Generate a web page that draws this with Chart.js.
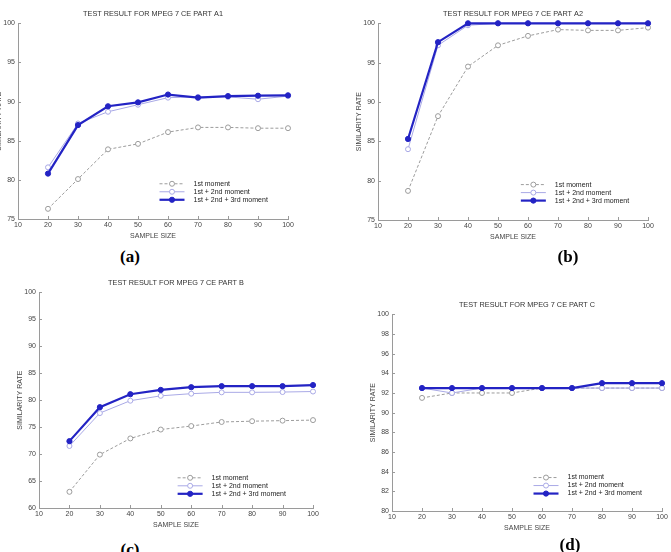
<!DOCTYPE html>
<html>
<head>
<meta charset="utf-8">
<script src="https://cdn.jsdelivr.net/npm/chart.js@4/dist/chart.umd.min.js"></script>
<style>
  html, body { margin: 0; padding: 0; background: #fff; }
  body { width: 671px; height: 552px; position: relative; overflow: hidden; }
  canvas { position: absolute; }
  .tag {
    position: absolute; width: 60px; text-align: center;
    font: bold 17px "Liberation Serif", "DejaVu Serif", serif; line-height: 20px; color: #000;
  }
</style>
</head>
<body>
<canvas id="chartA1"></canvas>
<canvas id="chartA2"></canvas>
<canvas id="chartB"></canvas>
<canvas id="chartC"></canvas>
<div class="tag" style="left:100px;top:247px">(a)</div>
<div class="tag" style="left:538px;top:247px">(b)</div>
<div class="tag" style="left:100px;top:540px">(c)</div>
<div class="tag" style="left:540px;top:535px">(d)</div>
<script>
// Data
const sampleSizes = [20, 30, 40, 50, 60, 70, 80, 90, 100];
const seriesNames = ["1st moment", "1st + 2nd moment", "1st + 2nd + 3rd moment"];

const a1First  = [76.3, 80.1, 83.9, 84.6, 86.1, 86.7, 86.7, 86.6, 86.6];
const a1Second = [81.6, 87.2, 88.7, 89.6, 90.5, 90.6, 90.6, 90.3, 90.7];
const a1Third  = [80.8, 87.0, 89.4, 89.9, 90.9, 90.5, 90.7, 90.75, 90.8];

const a2First  = [78.7, 88.2, 94.5, 97.2, 98.4, 99.2, 99.1, 99.1, 99.45];
const a2Second = [84.0, 97.2, 99.75, 100, 100, 100, 100, 100, 100];
const a2Third  = [85.3, 97.6, 100, 100, 100, 100, 100, 100, 100];

const bFirst  = [63.0, 69.9, 72.9, 74.55, 75.2, 75.95, 76.1, 76.2, 76.3];
const bSecond = [71.5, 77.6, 79.9, 80.8, 81.2, 81.45, 81.45, 81.5, 81.6];
const bThird  = [72.4, 78.7, 81.1, 81.9, 82.4, 82.6, 82.6, 82.6, 82.8];

const cFirst  = [91.5, 92.0, 92.0, 92.0, 92.5, 92.5, 92.5, 92.5, 92.5];
const cSecond = [92.5, 92.0, 92.5, 92.5, 92.5, 92.5, 92.5, 92.5, 92.5];
const cThird  = [92.5, 92.5, 92.5, 92.5, 92.5, 92.5, 93.0, 93.0, 93.0];

// Panel setup: canvas box + y range
const panels = [
  { id: "chartA1", title: "TEST RESULT FOR MPEG 7 CE PART A1", left: -18, top: 6, w: 318, h: 241,
    yMin: 75, yMax: 100, yStep: 5, data: [a1First, a1Second, a1Third], legendX: 0.65, legendY: 0.82 },
  { id: "chartA2", title: "TEST RESULT FOR MPEG 7 CE PART A2", left: 342, top: 6, w: 318, h: 242,
    yMin: 75, yMax: 100, yStep: 5, data: [a2First, a2Second, a2Third], legendX: 0.655, legendY: 0.82 },
  { id: "chartB", title: "TEST RESULT FOR MPEG 7 CE PART B", left: 3, top: 275, w: 322, h: 261,
    yMin: 60, yMax: 100, yStep: 5, data: [bFirst, bSecond, bThird], legendX: 0.63, legendY: 0.86 },
  { id: "chartC", title: "TEST RESULT FOR MPEG 7 CE PART C", left: 356, top: 297, w: 318, h: 242,
    yMin: 80, yMax: 100, yStep: 2, data: [cFirst, cSecond, cThird], legendX: 0.65, legendY: 0.83 },
];

const styles = [
  { color: "#9c9c9c", width: 1, dash: [3, 2], radius: 2.5, fill: "#ffffff" },
  { color: "#a9a9e6", width: 1, dash: [], radius: 2.5, fill: "#ffffff" },
  { color: "#2323c4", width: 2.2, dash: [], radius: 2.6, fill: "#2323c4" },
];

const axisGray = "#9a9a9a";
const textGray = "#444";
const smallFont = { family: "'Liberation Sans', Arial, sans-serif", size: 7 };

// inward tick marks, like the original plot
const innerTicks = {
  id: "innerTicks",
  afterDatasetsDraw(chart) {
    const { ctx, scales: { x, y } } = chart;
    ctx.save();
    ctx.strokeStyle = axisGray;
    ctx.lineWidth = 1;
    ctx.beginPath();
    x.ticks.forEach((t) => {
      const px = Math.round(x.getPixelForValue(t.value)) + 0.5;
      ctx.moveTo(px, y.bottom);
      ctx.lineTo(px, y.bottom - 3);
    });
    y.ticks.forEach((t) => {
      const py = Math.round(y.getPixelForValue(t.value)) + 0.5;
      ctx.moveTo(x.left, py);
      ctx.lineTo(x.left + 3, py);
    });
    ctx.stroke();
    ctx.restore();
  },
};

// legend drawn inside the plot area
const insideLegend = {
  id: "insideLegend",
  afterDraw(chart, args, opts) {
    const { ctx, chartArea } = chart;
    const textX = chartArea.left + opts.x * (chartArea.right - chartArea.left);
    let rowY = chartArea.top + opts.y * (chartArea.bottom - chartArea.top);
    ctx.save();
    ctx.font = "7px 'Liberation Sans', Arial, sans-serif";
    ctx.textBaseline = "middle";
    chart.data.datasets.forEach((ds) => {
      const x1 = textX - 34, x2 = textX - 9;
      ctx.strokeStyle = ds.borderColor;
      ctx.lineWidth = ds.borderWidth;
      ctx.setLineDash(ds.borderDash);
      ctx.beginPath();
      ctx.moveTo(x1, rowY);
      ctx.lineTo(x2, rowY);
      ctx.stroke();
      ctx.setLineDash([]);
      ctx.lineWidth = 1;
      ctx.fillStyle = ds.pointBackgroundColor;
      ctx.beginPath();
      ctx.arc((x1 + x2) / 2, rowY, ds.pointRadius, 0, Math.PI * 2);
      ctx.fill();
      ctx.stroke();
      ctx.fillStyle = "#222";
      ctx.fillText(ds.label, textX, rowY);
      rowY += 8;
    });
    ctx.restore();
  },
};

panels.forEach((p) => {
  const canvas = document.getElementById(p.id);
  canvas.width = p.w;
  canvas.height = p.h;
  canvas.style.left = p.left + "px";
  canvas.style.top = p.top + "px";

  const datasets = p.data.map((vals, i) => ({
    label: seriesNames[i],
    data: sampleSizes.map((s, k) => ({ x: s, y: vals[k] })),
    order: 2 - i, // thick series on top
    borderColor: styles[i].color,
    borderWidth: styles[i].width,
    borderDash: styles[i].dash,
    pointRadius: styles[i].radius,
    pointBorderWidth: 1,
    pointBorderColor: styles[i].color,
    pointBackgroundColor: styles[i].fill,
    tension: 0,
    clip: false,
  }));

  new Chart(canvas, {
    type: "line",
    data: { datasets },
    plugins: [innerTicks, insideLegend],
    options: {
      responsive: false,
      animation: false,
      layout: { padding: { left: 0, right: 12, top: 0, bottom: 0 } },
      plugins: {
        legend: { display: false },
        tooltip: { enabled: false },
        title: {
          display: true,
          text: p.title,
          fullSize: false,
          color: "#333",
          font: { ...smallFont, size: 7.3, weight: "normal", lineHeight: 1 },
          padding: { top: 4, bottom: 6 },
        },
        insideLegend: { x: p.legendX, y: p.legendY },
      },
      scales: {
        x: {
          type: "linear",
          min: 10, max: 100,
          ticks: { stepSize: 10, color: textGray, font: smallFont, padding: 2, maxRotation: 0 },
          grid: { drawOnChartArea: false, drawTicks: false },
          border: { color: axisGray },
          title: { display: true, text: "SAMPLE SIZE", color: textGray, font: smallFont, padding: { top: 0, bottom: 7 } },
          afterFit(scale) { scale.height = 28; },
        },
        y: {
          min: p.yMin, max: p.yMax,
          ticks: { stepSize: p.yStep, color: textGray, font: smallFont, padding: 3 },
          grid: { drawOnChartArea: false, drawTicks: false },
          border: { color: axisGray },
          title: { display: true, text: "SIMILARITY RATE", color: textGray, font: smallFont, padding: { top: 13, bottom: 0 } },
          afterFit(scale) { scale.width = 36; },
        },
      },
    },
  });
});
</script>
</body>
</html>
